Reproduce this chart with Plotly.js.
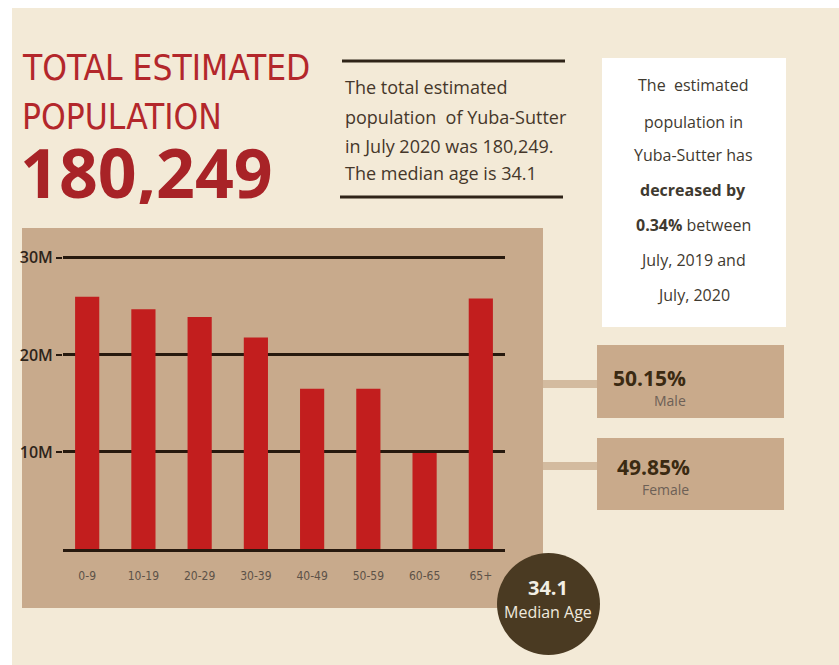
<!DOCTYPE html>
<html>
<head>
<meta charset="utf-8">
<script src="https://cdn.plot.ly/plotly-3.0.1.min.js"></script>
<style>
  html, body { margin: 0; padding: 0; background: #ffffff; }
  #chart { width: 839px; height: 665px; }
</style>
</head>
<body>
<div id="chart"></div>
<script>
// ---- data ----
const ageGroups = ['0-9', '10-19', '20-29', '30-39', '40-49', '50-59', '60-65', '65+'];
const populationM = [26.0, 24.7, 23.9, 21.8, 16.5, 16.5, 9.9, 25.8];
const yTickVals = [10, 20, 30];
const yTickText = ['10M', '20M', '30M'];

const titleLines = ['TOTAL ESTIMATED', 'POPULATION'];
const totalPopulation = '180,249';
const summaryLines = [
  'The total estimated',
  'population  of Yuba-Sutter',
  'in July 2020 was 180,249.',
  'The median age is 34.1'
];
const changeLines = [
  'The  estimated',
  'population in',
  'Yuba-Sutter has',
  '<b>decreased by</b>',
  '<b>0.34%</b> between',
  'July, 2019 and',
  'July, 2020'
];
const malePct = '50.15%', maleLabel = 'Male';
const femalePct = '49.85%', femaleLabel = 'Female';
const medianAge = '34.1', medianLabel = 'Median Age';

// ---- layout helpers (pixel -> paper) ----
const L = 63, R = 334, T = 253, B = 116, W = 839, H = 665;
const PW = W - L - R, PH = H - T - B;
const X = px => (px - L) / PW;
const Y = py => (H - B - py) / PH;

const beige = '#f3ead7', tan = '#c8aa8c', dark = '#27190e';
const narrow = '"Liberation Sans Narrow", "DejaVu Sans Condensed", sans-serif';
const body = '"Open Sans", sans-serif';

function rect(x0, y0, x1, y1, color, layer) {
  return { type: 'rect', xref: 'paper', yref: 'paper', x0: X(x0), x1: X(x1), y0: Y(y1), y1: Y(y0),
           fillcolor: color, line: { width: 0 }, layer: layer || 'below' };
}
function ann(text, x, y, size, color, xanchor, family, height) {
  const a = { text: text, x: X(x), y: Y(y), xref: 'paper', yref: 'paper', showarrow: false,
           xanchor: xanchor || 'left', yanchor: 'middle',
           font: { size: size, color: color, family: family || body } };
  if (height) a.height = height;
  return a;
}

const shapes = [
  rect(12, 8, 845, 670, beige),
  rect(22, 228, 543, 608, tan),
  rect(602, 58, 786, 327, '#ffffff'),
  { type: 'line', xref: 'paper', yref: 'paper', x0: X(342), x1: X(565), y0: Y(61), y1: Y(61), line: { color: '#2f2418', width: 3 }, layer: 'below' },
  { type: 'line', xref: 'paper', yref: 'paper', x0: X(340), x1: X(563), y0: Y(197), y1: Y(197), line: { color: '#2f2418', width: 3 }, layer: 'below' },
  rect(543, 380, 597, 388, '#d3bb9f'),
  rect(543, 462, 597, 470, '#d3bb9f'),
  rect(597, 345, 784, 418, '#c9aa8b'),
  rect(597, 438, 784, 510, '#c9aa8b'),
  { type: 'circle', xref: 'paper', yref: 'paper', x0: X(497), x1: X(600), y0: Y(655), y1: Y(553),
    fillcolor: '#4a3a22', line: { width: 0 }, layer: 'below' }
];

const summaryY = [87, 117, 146, 173];
const changeY = [85, 122, 155, 190, 225, 260, 295];
const annotations = [
  ann(titleLines[0], 20, 68, 35, '#b3272b', 'left', narrow, 40),
  ann(titleLines[1], 20, 117, 35, '#b3272b', 'left', narrow, 40),
  ann('<b>' + totalPopulation + '</b>', 18, 171, 68, '#a82327', 'left', body, 66),
  ...summaryLines.map((t, i) => ann(t, 343, summaryY[i], 18, '#45372a', 'left')),
  ...changeLines.map((t, i) => ann(t, 693, changeY[i], 16, '#3f3a30', 'center')),
  ann('<b>' + malePct + '</b>', 611, 378, 21, '#3b2a12', 'left'),
  ann(maleLabel, 670, 400, 14, '#6d6056', 'center'),
  ann('<b>' + femalePct + '</b>', 615, 467, 21, '#3b2a12', 'left'),
  ann(femaleLabel, 665, 489, 14, '#6d6056', 'center'),
  ann('<b>' + medianAge + '</b>', 548, 587, 20, '#f2eee4', 'center', body, 22),
  ann(medianLabel, 548, 611, 16, '#efe9dd', 'center', body, 21)
];

const trace = {
  type: 'bar',
  x: ageGroups,
  y: populationM,
  marker: { color: '#c21e1e', line: { width: 0 } },
  hoverinfo: 'skip'
};

const layout = {
  width: W, height: H,
  margin: { l: L, r: R, t: T, b: B, pad: 0 },
  paper_bgcolor: '#ffffff',
  plot_bgcolor: 'rgba(0,0,0,0)',
  showlegend: false,
  bargap: 0.57,
  xaxis: {
    type: 'category',
    range: [-0.43, 7.43],
    showgrid: false, zeroline: false,
    showline: true, linecolor: dark, linewidth: 3,
    ticks: 'outside', ticklen: 14, tickcolor: 'rgba(0,0,0,0)',
    tickfont: { family: narrow, size: 12, color: '#5d5248' },
    fixedrange: true
  },
  yaxis: {
    range: [0, 30.5],
    tickvals: yTickVals, ticktext: yTickText,
    showgrid: true, gridcolor: dark, gridwidth: 3,
    zeroline: false, showline: false,
    ticks: 'outside', ticklen: 6, tickwidth: 2, tickcolor: dark,
    tickfont: { family: body, size: 16, color: '#2e241a', weight: 600 },
    fixedrange: true
  },
  shapes: shapes,
  annotations: annotations
};

Plotly.newPlot('chart', [trace], layout, { staticPlot: true, displayModeBar: false });
</script>
</body>
</html>
